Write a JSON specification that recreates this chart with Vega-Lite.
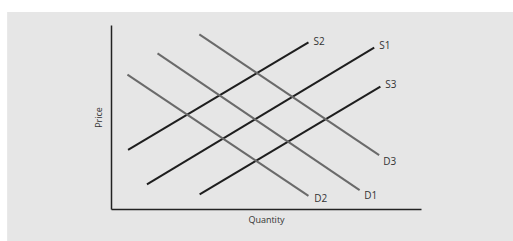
{
  "$schema": "https://vega.github.io/schema/vega-lite/v6.json",
  "autosize": "none",
  "width": 310,
  "height": 184,
  "padding": {"left": 111, "top": 25, "right": 92, "bottom": 32},
  "background": "white",
  "config": {"view": {"stroke": null}},
  "datasets": {
    "panel": [{"x1": -33.5, "x2": 140, "y1": 107.1, "y2": -25}],
    "lines": [
      {"series": "S2", "kind": "S", "x": 5.5, "y": 32.1},
      {"series": "S2", "kind": "S", "x": 63.7, "y": 90.6},
      {"series": "S1", "kind": "S", "x": 11.6, "y": 13.4},
      {"series": "S1", "kind": "S", "x": 84.9, "y": 87.7},
      {"series": "S3", "kind": "S", "x": 28.6, "y": 8.0},
      {"series": "S3", "kind": "S", "x": 86.9, "y": 66.5},
      {"series": "D2", "kind": "D", "x": 5.3, "y": 73.0},
      {"series": "D2", "kind": "D", "x": 63.7, "y": 7.1},
      {"series": "D1", "kind": "D", "x": 15.0, "y": 84.6},
      {"series": "D1", "kind": "D", "x": 80.2, "y": 10.3},
      {"series": "D3", "kind": "D", "x": 28.5, "y": 94.9},
      {"series": "D3", "kind": "D", "x": 86.5, "y": 29.3}
    ],
    "labels": [
      {"label": "S2", "x": 65.3, "y": 90.8},
      {"label": "S1", "x": 86.5, "y": 88.6},
      {"label": "S3", "x": 88.5, "y": 67.4},
      {"label": "D3", "x": 87.8, "y": 25.5},
      {"label": "D1", "x": 81.7, "y": 7.1},
      {"label": "D2", "x": 65.6, "y": 5.4}
    ]
  },
  "layer": [
    {
      "data": {"name": "panel"},
      "mark": {"type": "rect", "color": "#e6e6e6", "clip": false},
      "encoding": {
        "x": {"field": "x1", "type": "quantitative", "scale": {"domain": [0, 100]},
          "axis": {"title": "Quantity", "labels": false, "ticks": false, "grid": false, "domainColor": "#222", "domainWidth": 1.5, "titleFont": "Open Sans", "titleFontSize": 9, "titleFontWeight": "normal", "titleColor": "#333", "titlePadding": 6, "zindex": 1}},
        "x2": {"field": "x2"},
        "y": {"field": "y1", "type": "quantitative", "scale": {"domain": [0, 100]},
          "axis": {"title": "Price", "labels": false, "ticks": false, "grid": false, "domainColor": "#222", "domainWidth": 1.5, "titleFont": "Open Sans", "titleFontSize": 9, "titleFontWeight": "normal", "titleColor": "#333", "titlePadding": 8, "zindex": 1}},
        "y2": {"field": "y2"}
      }
    },
    {
      "data": {"name": "lines"},
      "mark": {"type": "line", "strokeWidth": 2},
      "encoding": {
        "x": {"field": "x", "type": "quantitative"},
        "y": {"field": "y", "type": "quantitative"},
        "detail": {"field": "series"},
        "color": {"field": "kind", "type": "nominal", "scale": {"domain": ["S", "D"], "range": ["#1e1e1e", "#6a6a6a"]}, "legend": null}
      }
    },
    {
      "data": {"name": "labels"},
      "mark": {"type": "text", "align": "left", "baseline": "middle", "font": "Open Sans", "fontSize": 10, "color": "#333"},
      "encoding": {
        "x": {"field": "x", "type": "quantitative"},
        "y": {"field": "y", "type": "quantitative"},
        "text": {"field": "label"}
      }
    }
  ]
}
